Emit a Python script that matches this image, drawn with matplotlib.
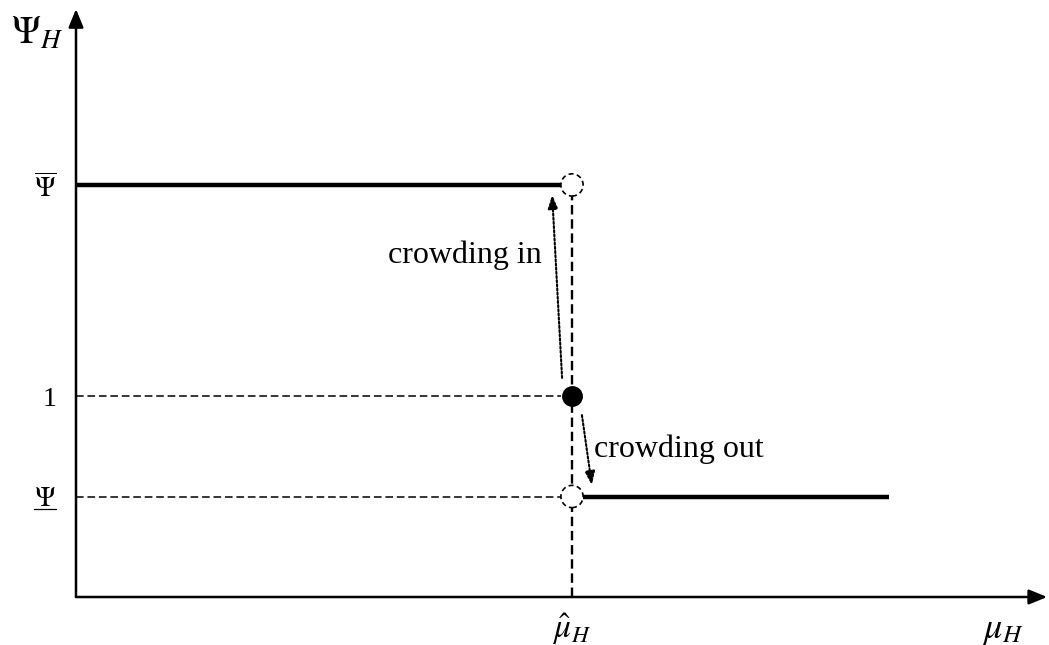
import matplotlib
matplotlib.use("Agg")
import matplotlib.pyplot as plt

# ---- data (model levels) ----
mu_hat = 1.0          # threshold \hat{mu}_H
x_end = 1.64          # end of lower branch
psi_bar = 2.05        # upper level
psi_one = 1.0         # level 1
psi_low = 0.5         # lower level
ytick_vals = [psi_low, psi_one, psi_bar]
ytick_labels = [r"$\Psi$", "1", r"$\overline{\Psi}$"]
xtick_vals = [mu_hat]
xtick_labels = [r"$\hat{\mu}_H$"]
# dotted arrows (start -> end)
crowd_in_start = (0.98, 1.09)
crowd_in_end = (0.96, 2.0)
crowd_out_start = (1.02, 0.905)
crowd_out_end = (1.04, 0.557)

plt.rcParams['mathtext.fontset'] = 'stix'
plt.rcParams['font.family'] = ['Liberation Serif', 'DejaVu Serif']

W, H = 1049, 645
fig = plt.figure(figsize=(W / 100, H / 100), dpi=100)
px_x, px_y = 496.0, 201.0
ax = fig.add_axes([76 / W, 48 / H, (W - 76) / W, 589 / H])
xmax = (W - 76) / px_x
ymax = 589 / px_y
ax.set_xlim(0, xmax)
ax.set_ylim(0, ymax)
for s in ax.spines.values():
    s.set_visible(False)

# axes with arrows
head = "-|>,head_length=1.1,head_width=0.45"
ax.annotate("", xy=(1.958, 0), xytext=(0, 0),
            arrowprops=dict(arrowstyle=head, lw=1.8, color="black",
                            shrinkA=0, shrinkB=0), annotation_clip=False)
ax.annotate("", xy=(0, ymax - 0.005), xytext=(0, 0),
            arrowprops=dict(arrowstyle=head, lw=1.8, color="black",
                            shrinkA=0, shrinkB=0), annotation_clip=False)

# ticks
ax.set_yticks(ytick_vals)
ylabels = ax.set_yticklabels(ytick_labels, fontsize=20)
ax.set_xticks(xtick_vals)
ax.set_xticklabels(xtick_labels, fontsize=24)
ax.tick_params(axis='both', length=0)
ax.tick_params(axis='y', pad=14)
ax.tick_params(axis='x', pad=10)

# underline for the lower Psi label (attached to the tick label itself)
ax.annotate("", xy=(1.0, 0.1), xycoords=ylabels[0], xytext=(0.0, 0.1),
            textcoords=ylabels[0],
            arrowprops=dict(arrowstyle="-", lw=0.9, color="black", shrinkA=0, shrinkB=0),
            annotation_clip=False)

# thick branches
r = 11 / px_x
ax.plot([0, mu_hat - r], [psi_bar, psi_bar], color="black", lw=3.2, solid_capstyle='butt')
ax.plot([mu_hat + r, x_end], [psi_low, psi_low], color="black", lw=3.2, solid_capstyle='butt')

# dashed guides
ax.plot([0, mu_hat - r], [psi_one, psi_one], color="black", lw=1.1, dashes=(5, 2.5))
ax.plot([0, mu_hat - r], [psi_low, psi_low], color="black", lw=1.1, dashes=(5, 2.5))
ax.plot([mu_hat, mu_hat], [0, psi_bar - 11 / px_y], color="black", lw=1.7, dashes=(4, 2))

# circles
ax.scatter([mu_hat, mu_hat], [psi_bar, psi_low], s=16 ** 2, facecolors="white",
           edgecolors="black", linewidths=1.2, linestyles=[(0, (3, 2))], zorder=5)
ax.scatter([mu_hat], [psi_one], s=14 ** 2, color="black", zorder=6)

# dotted arrows
for st, en in [(crowd_in_start, crowd_in_end), (crowd_out_start, crowd_out_end)]:
    ax.annotate("", xy=en, xytext=st,
                arrowprops=dict(arrowstyle="-|>,head_length=0.8,head_width=0.3", lw=1.5,
                                linestyle=(0, (1, 1)), color="black", shrinkA=0, shrinkB=0))

ax.text(0.94, 1.662, "crowding in", fontsize=23, ha="right", va="baseline")
ax.text(1.044, 0.697, "crowding out", fontsize=23, ha="left", va="baseline")

# axis labels
ax.text(-0.078, 2.80, r"$\Psi_H$", fontsize=28, ha="center", va="center", clip_on=False)
ax.text(1.868, -0.165, r"$\mu_H$", fontsize=26, ha="center", va="center", clip_on=False)

fig.savefig("out.png", dpi=100)
